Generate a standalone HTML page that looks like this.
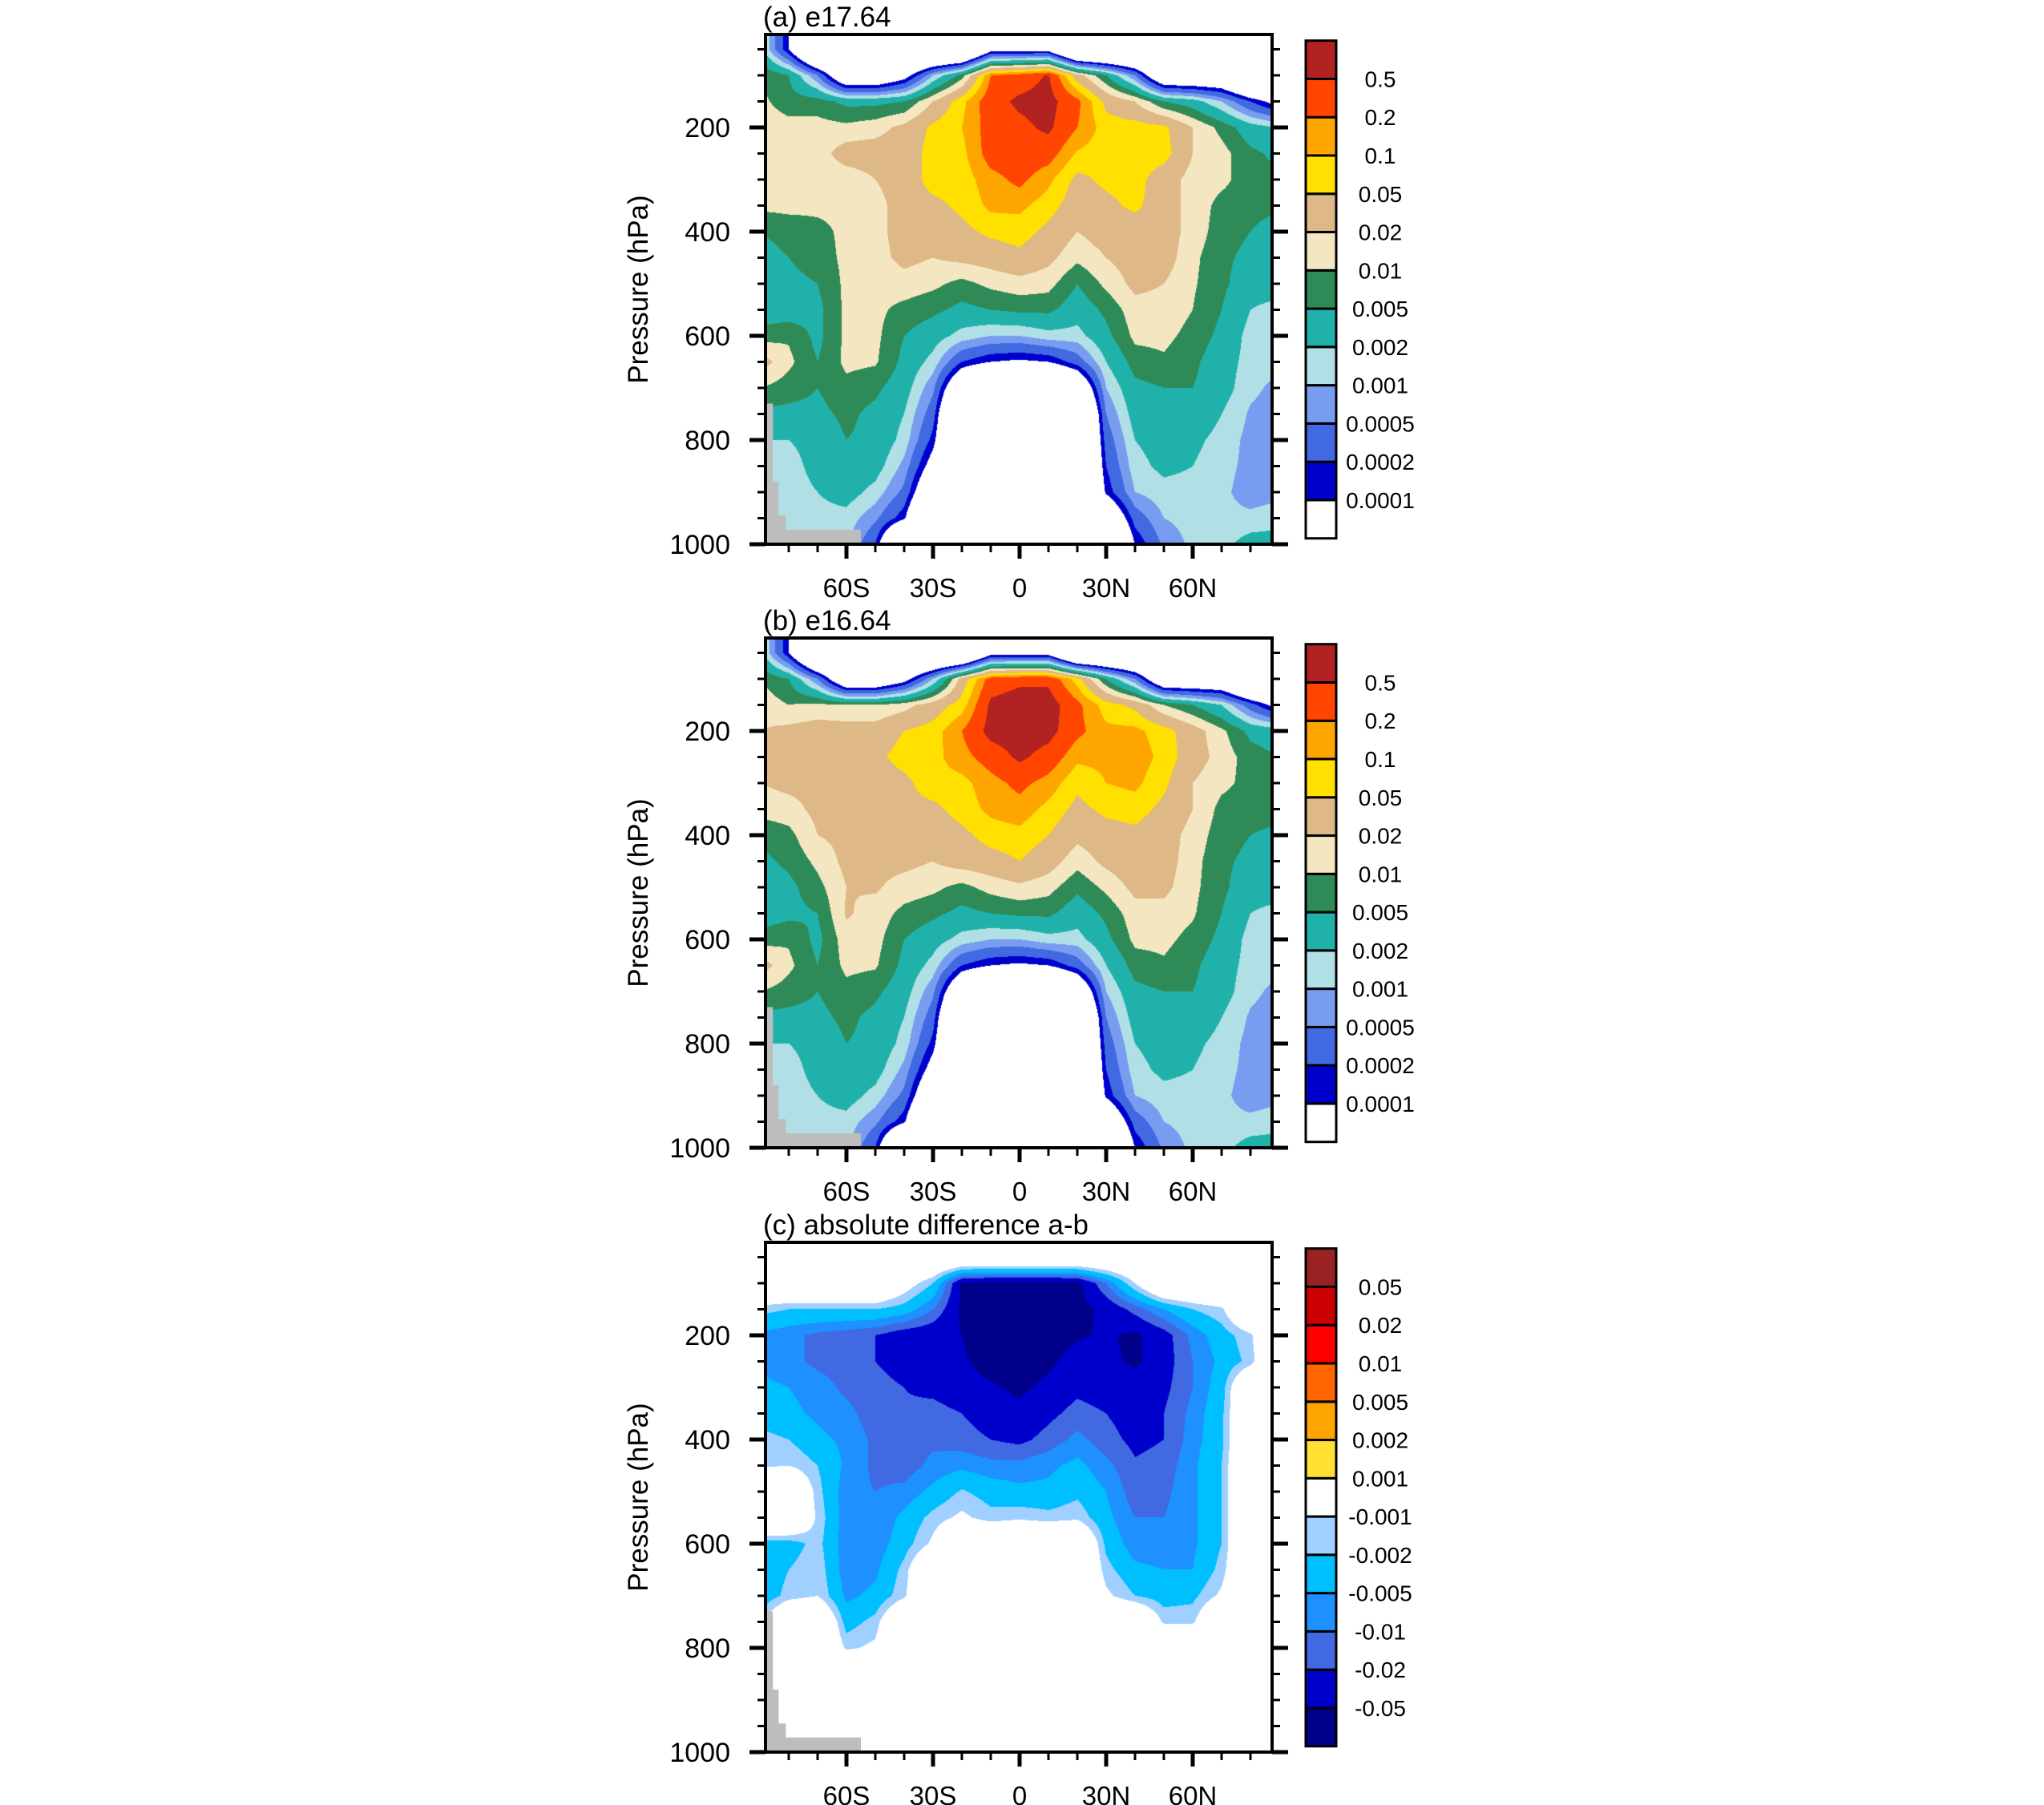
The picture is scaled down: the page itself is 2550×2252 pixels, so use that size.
<!DOCTYPE html>
<html><head><meta charset="utf-8">
<style>
html,body{margin:0;padding:0;background:#fff;}
#page{position:relative;width:2550px;height:2252px;overflow:hidden;background:#fff;}
canvas{position:absolute;}
svg{position:absolute;left:0;top:0;}
text{font-family:"Liberation Sans",Arial,sans-serif;fill:#000;}
</style></head>
<body>
<div id="page">
<canvas id="cva" width="632" height="636" style="left:955px;top:43px"></canvas>
<canvas id="cvb" width="632" height="636" style="left:955px;top:796px"></canvas>
<canvas id="cvc" width="632" height="636" style="left:955px;top:1550px"></canvas>
<svg id="svg" width="2550" height="2252"></svg>
</div>
<script>
const latitudes=[-90,-80,-70,-60,-50,-40,-30,-20,-10,0,10,20,30,40,50,60,70,80,90];
const pressures=[50,100,150,200,250,300,350,400,450,500,550,600,650,700,750,800,850,900,950,1000];
const fieldA=[
[0.003,1e-4,1e-6,1e-6,1e-6,1e-6,1e-6,1e-6,5e-5,5e-5,5e-5,1e-6,1e-6,1e-6,1e-6,1e-6,1e-6,1e-6,1e-6],
[0.01,0.005,5e-4,1e-5,1e-5,5e-5,1e-3,0.007,0.2,0.3,0.55,0.03,0.005,5e-4,1e-5,1e-5,1e-5,1e-6,1e-6],
[0.012,0.007,0.007,0.004,0.004,0.005,0.02,0.08,0.35,0.6,0.7,0.25,0.04,0.02,0.005,0.003,0.001,2e-4,5e-5],
[0.015,0.013,0.013,0.012,0.015,0.025,0.06,0.1,0.3,0.4,0.6,0.2,0.07,0.07,0.06,0.02,0.008,0.003,0.002],
[0.015,0.014,0.014,0.03,0.03,0.03,0.07,0.08,0.3,0.35,0.3,0.09,0.07,0.08,0.07,0.02,0.013,0.006,0.004],
[0.015,0.015,0.013,0.013,0.02,0.03,0.07,0.07,0.15,0.25,0.12,0.04,0.06,0.07,0.03,0.015,0.012,0.007,0.006],
[0.012,0.013,0.012,0.012,0.015,0.03,0.04,0.06,0.12,0.12,0.07,0.03,0.04,0.06,0.03,0.015,0.008,0.007,0.006],
[0.005,0.006,0.008,0.012,0.015,0.03,0.03,0.04,0.06,0.07,0.04,0.02,0.03,0.03,0.03,0.015,0.007,0.005,0.003],
[0.004,0.005,0.007,0.012,0.015,0.025,0.02,0.025,0.03,0.04,0.025,0.012,0.02,0.03,0.03,0.012,0.006,0.004,0.003],
[0.003,0.004,0.005,0.012,0.013,0.015,0.012,0.008,0.012,0.015,0.013,0.005,0.012,0.025,0.02,0.011,0.006,0.003,0.003],
[0.003,0.003,0.004,0.012,0.012,0.008,0.006,0.004,0.005,0.006,0.006,0.003,0.006,0.015,0.015,0.01,0.005,0.002,0.0015],
[0.007,0.009,0.004,0.012,0.012,0.005,0.003,0.0015,0.001,0.001,0.0015,0.0015,0.004,0.012,0.012,0.008,0.004,0.0015,0.0015],
[0.03,0.012,0.005,0.012,0.011,0.004,0.0015,2e-4,1e-4,8e-5,1e-4,3e-4,0.002,0.007,0.009,0.006,0.003,0.0015,0.0012],
[0.01,0.007,0.005,0.008,0.006,0.003,6e-4,1e-5,1e-6,1e-6,1e-6,1e-5,0.001,0.004,0.005,0.005,0.003,0.0012,8e-4],
[0.004,0.004,0.004,0.006,0.004,0.002,3e-4,1e-6,1e-6,1e-6,1e-6,1e-6,5e-4,0.003,0.004,0.004,0.002,9e-4,7e-4],
[0.002,0.002,0.003,0.005,0.004,0.0015,1.5e-4,1e-6,1e-6,1e-6,1e-6,1e-6,3e-4,0.002,0.003,0.0025,0.0015,8e-4,6e-4],
[0.0015,0.0013,0.003,0.004,0.003,8e-4,5e-5,1e-6,1e-6,1e-6,1e-6,1e-6,2e-4,0.0015,0.0025,0.002,0.0013,8e-4,6e-4],
[0.001,0.0012,0.002,0.003,0.0015,4e-4,1e-5,1e-6,1e-6,1e-6,1e-6,1e-6,1.2e-4,0.001,0.0015,0.0015,0.0012,7e-4,8e-4],
[0.001,0.001,0.0015,0.0015,6e-4,1.2e-4,1e-6,1e-6,1e-6,1e-6,1e-6,1e-6,1e-5,3e-4,0.001,0.0013,0.0012,0.0012,0.0015],
[0.001,0.001,0.0015,0.0012,2e-4,1e-6,1e-6,1e-6,1e-6,1e-6,1e-6,1e-6,1e-6,1e-4,6e-4,0.0012,0.0015,0.003,0.003]
];
const fieldB=[
[0.003,1e-4,1e-6,1e-6,1e-6,1e-6,1e-6,1e-6,5e-5,5e-5,5e-5,1e-6,1e-6,1e-6,1e-6,1e-6,1e-6,1e-6,1e-6],
[0.01,0.005,5e-4,1e-5,1e-5,5e-5,1e-3,0.03,0.3,0.4,0.4,0.07,0.005,5e-4,1e-5,1e-5,1e-5,1e-6,1e-6],
[0.015,0.01,0.012,0.01,0.01,0.015,0.03,0.07,0.6,0.8,0.8,0.25,0.07,0.04,0.01,0.005,0.002,3e-4,5e-5],
[0.02,0.025,0.03,0.03,0.03,0.05,0.07,0.2,0.7,0.8,0.7,0.25,0.12,0.12,0.07,0.03,0.012,0.004,0.003],
[0.02,0.025,0.03,0.03,0.04,0.07,0.08,0.15,0.3,0.6,0.35,0.12,0.12,0.15,0.08,0.03,0.015,0.007,0.005],
[0.02,0.025,0.025,0.03,0.03,0.04,0.08,0.08,0.15,0.25,0.15,0.06,0.1,0.12,0.06,0.02,0.012,0.008,0.007],
[0.013,0.015,0.025,0.03,0.03,0.04,0.04,0.07,0.12,0.15,0.08,0.04,0.06,0.07,0.04,0.02,0.008,0.007,0.007],
[0.006,0.008,0.02,0.025,0.03,0.035,0.03,0.04,0.07,0.08,0.05,0.025,0.035,0.04,0.03,0.015,0.007,0.005,0.004],
[0.004,0.006,0.012,0.025,0.025,0.025,0.02,0.03,0.035,0.05,0.03,0.013,0.025,0.035,0.03,0.013,0.006,0.004,0.003],
[0.003,0.004,0.008,0.02,0.022,0.015,0.012,0.008,0.013,0.017,0.013,0.006,0.012,0.025,0.025,0.012,0.006,0.003,0.003],
[0.003,0.004,0.005,0.022,0.015,0.008,0.006,0.004,0.005,0.006,0.006,0.003,0.006,0.015,0.015,0.011,0.005,0.002,0.0015],
[0.007,0.009,0.004,0.015,0.013,0.005,0.003,0.0015,0.001,0.001,0.0015,0.0015,0.004,0.012,0.012,0.008,0.004,0.0015,0.0015],
[0.03,0.012,0.005,0.012,0.011,0.004,0.0015,2e-4,1e-4,8e-5,1e-4,3e-4,0.002,0.007,0.009,0.006,0.003,0.0015,0.0012],
[0.01,0.007,0.005,0.008,0.006,0.003,6e-4,1e-5,1e-6,1e-6,1e-6,1e-5,0.001,0.004,0.005,0.005,0.003,0.0012,8e-4],
[0.004,0.004,0.004,0.006,0.004,0.002,3e-4,1e-6,1e-6,1e-6,1e-6,1e-6,5e-4,0.003,0.004,0.004,0.002,9e-4,7e-4],
[0.002,0.002,0.003,0.005,0.004,0.0015,1.5e-4,1e-6,1e-6,1e-6,1e-6,1e-6,3e-4,0.002,0.003,0.0025,0.0015,8e-4,6e-4],
[0.0015,0.0013,0.003,0.004,0.003,8e-4,5e-5,1e-6,1e-6,1e-6,1e-6,1e-6,2e-4,0.0015,0.0025,0.002,0.0013,8e-4,6e-4],
[0.001,0.0012,0.002,0.003,0.0015,4e-4,1e-5,1e-6,1e-6,1e-6,1e-6,1e-6,1.2e-4,0.001,0.0015,0.0015,0.0012,7e-4,8e-4],
[0.001,0.001,0.0015,0.0015,6e-4,1.2e-4,1e-6,1e-6,1e-6,1e-6,1e-6,1e-6,1e-5,3e-4,0.001,0.0013,0.0012,0.0012,0.0015],
[0.001,0.001,0.0015,0.0012,2e-4,1e-6,1e-6,1e-6,1e-6,1e-6,1e-6,1e-6,1e-6,1e-4,6e-4,0.0012,0.0015,0.003,0.003]
];
const fieldC=[
[0,0,0,0,0,0,0,0,0,0,0,0,0,0,0,0,0,0,0],
[0,0,0,0,0,-0.0005,-0.002,-0.06,-0.08,-0.08,-0.08,-0.07,-0.01,-0.001,0,0,0,0,0],
[-0.0015,-0.002,-0.002,-0.002,-0.002,-0.003,-0.01,-0.06,-0.08,-0.08,-0.08,-0.07,-0.04,-0.015,-0.005,-0.002,-0.0012,0,0],
[-0.006,-0.008,-0.012,-0.015,-0.02,-0.035,-0.04,-0.05,-0.08,-0.08,-0.08,-0.055,-0.045,-0.06,-0.03,-0.008,-0.003,-0.0012,0],
[-0.006,-0.008,-0.012,-0.015,-0.02,-0.03,-0.035,-0.045,-0.07,-0.08,-0.06,-0.035,-0.04,-0.06,-0.03,-0.01,-0.004,-0.0015,0],
[-0.004,-0.005,-0.007,-0.012,-0.015,-0.02,-0.025,-0.035,-0.045,-0.06,-0.04,-0.025,-0.03,-0.03,-0.025,-0.01,-0.003,0,0],
[-0.003,-0.004,-0.006,-0.008,-0.015,-0.018,-0.015,-0.02,-0.03,-0.04,-0.025,-0.015,-0.02,-0.03,-0.02,-0.008,-0.0025,0,0],
[-0.0015,-0.002,-0.004,-0.006,-0.012,-0.015,-0.012,-0.015,-0.02,-0.025,-0.015,-0.008,-0.015,-0.025,-0.02,-0.007,-0.0025,0,0],
[-0.0012,-0.001,-0.002,-0.006,-0.012,-0.015,-0.008,-0.006,-0.008,-0.008,-0.006,-0.004,-0.008,-0.018,-0.015,-0.006,-0.002,0,0],
[0,0,-0.0015,-0.008,-0.01,-0.008,-0.004,-0.0018,-0.003,-0.004,-0.004,-0.0025,-0.005,-0.015,-0.012,-0.006,-0.002,0,0],
[0,0,-0.0012,-0.008,-0.009,-0.004,-0.0015,-0.0008,-0.0015,-0.0012,-0.0015,-0.0012,-0.004,-0.01,-0.01,-0.006,-0.002,0,0],
[-0.003,-0.003,-0.0015,-0.008,-0.008,-0.003,-0.0008,0,0,0,0,0,-0.0025,-0.008,-0.008,-0.006,-0.002,0,0],
[-0.004,-0.002,-0.0012,-0.008,-0.006,-0.0015,0,0,0,0,0,0,-0.0015,-0.004,-0.005,-0.005,-0.0015,0,0],
[-0.004,-0.0015,-0.001,-0.006,-0.004,-0.0012,0,0,0,0,0,0,-0.0008,-0.002,-0.003,-0.0025,-0.0008,0,0],
[-0.0015,0,0,-0.003,-0.0015,0,0,0,0,0,0,0,0,0,-0.0012,-0.0012,0,0,0],
[0,0,0,-0.0012,-0.0008,0,0,0,0,0,0,0,0,0,0,0,0,0,0],
[0,0,0,0,0,0,0,0,0,0,0,0,0,0,0,0,0,0,0],
[0,0,0,0,0,0,0,0,0,0,0,0,0,0,0,0,0,0,0],
[0,0,0,0,0,0,0,0,0,0,0,0,0,0,0,0,0,0,0],
[0,0,0,0,0,0,0,0,0,0,0,0,0,0,0,0,0,0,0]
];
const levelsAB=[1e-4,2e-4,5e-4,0.001,0.002,0.005,0.01,0.02,0.05,0.1,0.2,0.5];
const labelsAB=["0.0001","0.0002","0.0005","0.001","0.002","0.005","0.01","0.02","0.05","0.1","0.2","0.5"];
const colorsAB=["#ffffff","#0000cd","#4169e1","#789df0","#b0e0e6","#20b2aa","#2e8b57","#f5e6c2","#deb887","#ffe000","#ffa500","#ff4500","#b22222"];
const levelsC=[-0.05,-0.02,-0.01,-0.005,-0.002,-0.001,0.001,0.002,0.005,0.01,0.02,0.05];
const labelsC=["-0.05","-0.02","-0.01","-0.005","-0.002","-0.001","0.001","0.002","0.005","0.01","0.02","0.05"];
const colorsC=["#00008b","#0000cd","#4169e1","#1e90ff","#00bfff","#a0d0ff","#ffffff","#ffe033","#ffa500","#ff6600","#ff0000","#cc0000","#9b2222"];
const xTicks=[-60,-30,0,30,60];
const xTickLabels=["60S","30S","0","30N","60N"];
const yTicks=[200,400,600,800,1000];

const BOX_L=955,BOX_R=1587,OFFS=[0,753,1507];
function xOf(lat){return 1272+lat*3.6;}
function yOf(p,off){return 159+(p-200)*0.65+off;}
function latOfX(x){return (x-1272)/3.6;}
function pOfY(y,off){return 200+(y-159-off)/0.65;}

function tf(v,mode){ if(mode==='log') return Math.log10(Math.max(v,1e-7)); const a=Math.abs(v); return a<=1e-4?0:Math.sign(v)*Math.log10(a/1e-4);}
function itf(t,mode){ if(mode==='log') return Math.pow(10,t); if(t===0) return 0; return Math.sign(t)*1e-4*Math.pow(10,Math.abs(t));}
function hex(c){return [parseInt(c.substr(1,2),16),parseInt(c.substr(3,2),16),parseInt(c.substr(5,2),16)];}

function render(cid,field,levels,colors,mode,off){
  const cv=document.getElementById(cid),ctx=cv.getContext('2d');
  const W=cv.width,H=cv.height,img=ctx.createImageData(W,H);
  const T=field.map(r=>r.map(v=>tf(v,mode)));
  const rgb=colors.map(hex);
  for(let j=0;j<H;j++){
    const p=pOfY(43+off+j+0.5,off);
    let fy=(p-pressures[0])/50; fy=Math.max(0,Math.min(pressures.length-1.0001,fy));
    const r0=Math.floor(fy),wy=fy-r0;
    for(let i=0;i<W;i++){
      const lat=latOfX(BOX_L+i+0.5);
      let fx=(lat-latitudes[0])/10; fx=Math.max(0,Math.min(latitudes.length-1.0001,fx));
      const c0=Math.floor(fx),wx=fx-c0;
      const t=(T[r0][c0]*(1-wx)+T[r0][c0+1]*wx)*(1-wy)+(T[r0+1][c0]*(1-wx)+T[r0+1][c0+1]*wx)*wy;
      const v=itf(t,mode);
      let k=0; while(k<levels.length&&v>=levels[k])k++;
      const col=rgb[k],o=(j*W+i)*4;
      img.data[o]=col[0];img.data[o+1]=col[1];img.data[o+2]=col[2];img.data[o+3]=255;
    }
  }
  ctx.putImageData(img,0,0);
}
render('cva',fieldA,levelsAB,colorsAB,'log',0);
render('cvb',fieldB,levelsAB,colorsAB,'log',753);
render('cvc',fieldC,levelsC,colorsC,'sym',1507);

const NS="http://www.w3.org/2000/svg",svg=document.getElementById('svg');
function mk(tag,attrs,parent){const e=document.createElementNS(NS,tag);for(const k in attrs)e.setAttribute(k,attrs[k]);(parent||svg).appendChild(e);return e;}

const titles=["(a) e17.64","(b) e16.64","(c) absolute difference a-b"];
const gray=[[-90,730],[-85.5,730],[-85.5,880],[-83.5,880],[-83.5,945],[-81,945],[-81,972],[-55,972],[-55,1000],[-90,1000]];
[0,1,2].forEach(pi=>{
  const off=OFFS[pi];
  const g=mk('g',{});
  
  
  const poly=mk('polygon',{points:gray.map(q=>Math.max(BOX_L,xOf(q[0]))+','+yOf(q[1],off)).join(' '),fill:'#bdbdbd'},g);
  
  
  const top=43+off,bot=679+off;
  const box=mk('rect',{x:BOX_L,y:top,width:BOX_R-BOX_L,height:bot-top,fill:'none',stroke:'#000','stroke-width':4},g);
  
  
  const tt=mk('text',{x:952,y:top-10,'font-size':35},g); tt.textContent=titles[pi];
  
  
  for(let p=50;p<=1000;p+=50){
    const y=yOf(p,off),maj=p%200===0,len=maj?20:10;
    const t1=mk('line',{x1:BOX_L-len,x2:BOX_L,y1:y,y2:y,stroke:'#000','stroke-width':maj?5:3},g);
    
    
    const t2=mk('line',{x1:BOX_R,x2:BOX_R+len,y1:y,y2:y,stroke:'#000','stroke-width':maj?5:3},g);
    
    
  }
  yTicks.forEach(p=>{
    const l=mk('text',{x:911,y:yOf(p,off)+12,'font-size':34,'text-anchor':'end'},g); l.textContent=p;
    
    
  });
  for(let lat=-80;lat<=80;lat+=10){
    const x=xOf(lat),maj=lat%30===0,len=maj?18:10;
    const t=mk('line',{x1:x,x2:x,y1:bot,y2:bot+len,stroke:'#000','stroke-width':maj?5:3},g);
    
    
  }
  xTicks.forEach((lat,i)=>{
    const l=mk('text',{x:xOf(lat),y:bot+66,'font-size':33,'text-anchor':'middle'},g); l.textContent=xTickLabels[i];
    
    
  });
  const yt=mk('text',{x:0,y:0,'font-size':35,'text-anchor':'middle',transform:'translate(808,'+(top+318)+') rotate(-90)'},g);
  yt.textContent='Pressure (hPa)';
  
  
  const isC=pi===2,cols=isC?colorsC:colorsAB,labs=isC?labelsC:labelsAB;
  const cbTop=50.7+off,cbH=621,n=cols.length,bh=cbH/n;
  for(let k=0;k<n;k++){
    const r=mk('rect',{x:1629,y:cbTop+(n-1-k)*bh,width:38,height:bh,fill:cols[k],stroke:'#000','stroke-width':3},g);
    
    
  }
  labs.forEach((s,k)=>{
    const y=cbTop+(n-1-k)*bh;
    const l=mk('text',{x:1722,y:y+10,'font-size':28,'text-anchor':'middle'},g); l.textContent=s;
    
    
  });
});
</script>
</body></html>
